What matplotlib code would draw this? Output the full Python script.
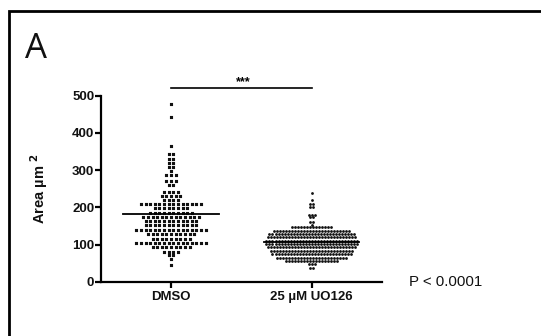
import numpy as np
import matplotlib
matplotlib.use("Agg")
import matplotlib.pyplot as plt
from matplotlib.patches import Rectangle

# ---------------- data ----------------
categories = ["DMSO", "25 µM UO126"]

# DMSO: row value (µm²) and number of dots in that row
dmso_row_values = [477, 443, 365, 342, 331, 320, 309, 298, 287, 272, 261, 242, 230, 219,
                   208, 197, 186, 175, 163, 152, 139, 127, 116, 103, 92, 81, 71, 60, 45]
dmso_row_counts = [1, 1, 1, 2, 2, 2, 2, 1, 3, 3, 2, 4, 5, 4,
                   14, 8, 10, 13, 12, 12, 16, 11, 9, 16, 9, 4, 2, 1, 1]

# UO126: row value (µm²) and number of dots in that row
uo_row_values = [239, 220, 209, 200, 179, 173, 161, 152, 146, 137, 128, 119, 110, 101,
                 92, 83, 74, 65, 56, 47, 36]
uo_row_counts = [1, 1, 2, 2, 3, 2, 2, 1, 14, 26, 29, 30, 31, 31,
                 30, 28, 27, 24, 18, 3, 2]

group_means = [183, 107]
y_ticks = [0, 100, 200, 300, 400, 500]
p_text = "P < 0.0001"
sig_text = "***"

# ---------------- figure ----------------
W, H = 541, 336
fig = plt.figure(figsize=(W / 100, H / 100), dpi=100)
fig.patch.set_facecolor("white")

ax_left, ax_right = 100.7, 382.0
ax_top, ax_bottom = 95.7, 281.7
ax = fig.add_axes([ax_left / W, 1 - ax_bottom / H,
                   (ax_right - ax_left) / W, (ax_bottom - ax_top) / H])

def dot_rows(values, counts, spacing, center):
    xs, ys = [], []
    for v, n in zip(values, counts):
        offs = (np.arange(n) - (n - 1) / 2.0) * spacing
        xs.extend(center + offs)
        ys.extend([v] * n)
    return np.array(xs), np.array(ys)

px_per_unit = 140.0
xd, yd = dot_rows(dmso_row_values, dmso_row_counts, 4.6 / px_per_unit, 0)
xu, yu = dot_rows(uo_row_values, uo_row_counts, 3.0 / px_per_unit, 1)

sd = ax.scatter(xd, yd, marker="s", s=5.0, color="#111111", linewidths=0, zorder=3)
sd.set_snap(False)
su = ax.scatter(xu, yu, marker="o", s=4.0, color="#111111", linewidths=0, zorder=3)
su.set_snap(False)

hw = 0.34
for i, m in enumerate(group_means):
    ax.plot([i - hw, i + hw], [m, m], color="black", lw=1.3, zorder=4)

ax.set_xlim(-0.5, 1.5)
ax.set_ylim(0, 500)
ax.set_xticks([0, 1])
ax.set_xticklabels(categories)
ax.set_yticks(y_ticks)

for s in ["top", "right"]:
    ax.spines[s].set_visible(False)
for s in ["left", "bottom"]:
    ax.spines[s].set_linewidth(1.6)
ax.tick_params(axis="both", width=1.6, length=4.1, direction="out", color="black")
ax.tick_params(axis="y", pad=0.5)
ax.tick_params(axis="x", pad=2.5)
for lab in ax.get_xticklabels() + ax.get_yticklabels():
    lab.set_fontfamily("Liberation Sans")
    lab.set_fontweight("bold")
    lab.set_fontsize(9.5)
    lab.set_color("#111111")

plt.rcParams["mathtext.fontset"] = "custom"
plt.rcParams["mathtext.bf"] = "Liberation Sans:bold"
plt.rcParams["mathtext.rm"] = "Liberation Sans"
ax.set_ylabel(r"Area µm $^{\mathbf{2}}$", fontfamily="Liberation Sans", fontweight="bold",
              fontsize=10.5, color="#111111")
ax.yaxis.set_label_coords(-0.18, 0.5)

# significance bar
ax.plot([0, 1], [520, 520], color="black", lw=1.2, clip_on=False)
ax.text(0.51, 521, sig_text, ha="center", va="bottom", fontsize=9,
        fontweight="bold", fontfamily="Liberation Sans", clip_on=False)

# P value text
fig.text(409 / W, 1 - 282 / H, p_text, ha="left", va="center",
         fontfamily="Liberation Sans", fontsize=10.8, color="#111111")

# panel letter
fig.text(25 / W, 1 - 58 / H, "A", ha="left", va="baseline",
         fontfamily="Open Sans", fontsize=25, color="#111111")

# outer frame
fig.patches.append(Rectangle((8.5 / W, -0.2), 1.5, 1 - 11 / H + 0.2,
                             transform=fig.transFigure, fill=False,
                             edgecolor="black", linewidth=2.0))

fig.savefig("out.png", dpi=100, facecolor="white")
